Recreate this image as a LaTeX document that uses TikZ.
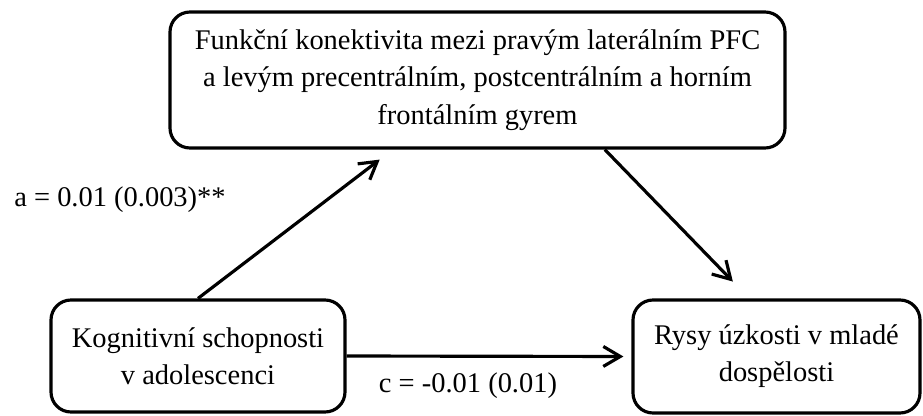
\documentclass[tikz,border=0pt]{standalone}
\usepackage{fontspec}
\setmainfont{Liberation Serif}
\usetikzlibrary{calc,arrows.meta}
\tikzset{
	varbox/.style={draw, line width=1.8pt, rounded corners=0.4cm, align=center, inner sep=0pt, font=\fontsize{16.2pt}{21.2pt}\selectfont},
	patharrow/.style={line width=1.8pt, -{Straight Barb[length=3.4mm,width=4mm]}},
	pathlabel/.style={font=\fontsize{16.2pt}{21.2pt}\selectfont}
}

\begin{document}
\begin{tikzpicture}
			%%%%% START %%%%%
			
			\useasboundingbox (0, 0) rectangle (18.46, 8.3);
			
			\node[varbox, minimum width=12.3cm, minimum height=2.72cm] (mediator) at (9.55, 6.70) {Funkční konektivita mezi pravým laterálním PFC\\ a levým precentrálním, postcentrálním a horním\\ frontálním gyrem};
			\node[varbox, minimum width=5.88cm, minimum height=2.24cm] (predictor) at (3.96, 1.18) {Kognitivní schopnosti\\ v adolescenci};
			\node[varbox, minimum width=5.74cm, minimum height=2.26cm] (outcome) at (15.53, 1.17) {Rysy úzkosti v mladé\\ dospělosti};
			
			\draw[patharrow, shorten >=0.33cm] (predictor.north) -- ($(mediator.south west)!0.363!(mediator.south east)$);
			\draw[patharrow, shorten >=0.47cm] ($(mediator.south west)!0.706!(mediator.south east)$) -- ($(outcome.north west)!0.406!(outcome.north east)$);
			\draw[patharrow, shorten >=0.16cm] (predictor.east) -- (outcome.west);
			
			\node[pathlabel] (alabel) at (2.4, 4.3) {a = 0.01 (0.003)**};
			\node[pathlabel] (clabel) at (9.36, 0.58) {c = -0.01 (0.01)};
			
			%%%%% END %%%%%
		\end{tikzpicture}
\end{document}
